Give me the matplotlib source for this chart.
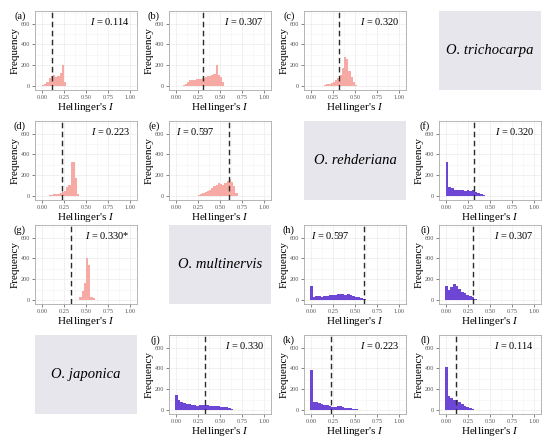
import matplotlib.pyplot as plt
import numpy as np
from matplotlib.ticker import MultipleLocator

plt.rcParams["font.family"] = ["Liberation Serif", "DejaVu Serif"]
plt.rcParams["mathtext.fontset"] = "custom"
plt.rcParams["mathtext.rm"] = "Liberation Serif"
plt.rcParams["mathtext.it"] = "Liberation Serif:italic"

PINK = "#F7AAA4"
PURPLE = "#6E46D6"
SPECIES_BG = "#E6E6EC"

# histogram counts of Hellinger's I per panel (bins start at *_start, width *_width)
a_start, a_width = 0.0, 0.025
a_counts = [10, 25, 45, 75, 95, 110, 85, 100, 130, 200, 45]
b_start, b_width = 0.05, 0.025
b_counts = [5, 12, 25, 45, 60, 65, 62, 70, 72, 68, 75, 85, 95, 100, 110, 120, 205, 110, 90, 40]
c_start, c_width = 0.075, 0.025
c_counts = [3, 5, 8, 12, 18, 25, 35, 45, 60, 80, 110, 180, 280, 260, 150, 90, 45, 15]
d_start, d_width = 0.025, 0.025
d_counts = [3, 6, 10, 14, 18, 22, 27, 33, 40, 50, 90, 110, 325, 330, 180, 20]
e_start, e_width = 0.2, 0.025
e_counts = [3, 6, 12, 18, 28, 38, 50, 65, 80, 95, 110, 125, 115, 105, 130, 150, 165, 140, 100, 30]
f_start, f_width = -0.005, 0.03
f_counts = [330, 90, 75, 65, 60, 62, 58, 55, 60, 52, 58, 45, 30, 20, 10]
g_start, g_width = 0.4, 0.025
g_counts = [8, 30, 90, 170, 400, 340, 30, 20]
h_start, h_width = -0.01, 0.03
h_counts = [140, 35, 38, 42, 35, 38, 45, 48, 50, 55, 58, 60, 58, 55, 60, 50, 45, 35, 30, 20, 12, 6, 3, 1]
i_start, i_width = -0.01, 0.03
i_counts = [140, 100, 130, 160, 140, 110, 80, 70, 55, 40, 30, 15, 5, 2]
j_start, j_width = -0.01, 0.03
j_counts = [148, 100, 80, 72, 65, 58, 52, 48, 45, 48, 50, 52, 48, 45, 42, 40, 38, 35, 32, 28, 22, 15, 8, 3]
k_start, k_width = -0.01, 0.03
k_counts = [390, 80, 76, 70, 62, 55, 48, 42, 35, 30, 38, 42, 30, 25, 22, 18, 14, 10, 7, 5, 3, 2]
l_start, l_width = -0.01, 0.03
l_counts = [410, 140, 115, 100, 95, 80, 60, 45, 30, 20, 12, 5, 2]

observed_i = {"a": 0.114, "b": 0.307, "c": 0.320, "d": 0.223, "e": 0.597, "f": 0.320,
              "g": 0.330, "h": 0.597, "i": 0.307, "j": 0.330, "k": 0.223, "l": 0.114}
i_text = {"g": "0.330*"}

x_ticks = [0.0, 0.25, 0.5, 0.75, 1.0]
x_tick_labels = ["0.00", "0.25", "0.50", "0.75", "1.00"]
y_ticks = [0, 200, 400, 600]

# (panel, row, col, start, width, counts, colour)
panels = [
    ("a", 0, 0, a_start, a_width, a_counts, PINK),
    ("b", 0, 1, b_start, b_width, b_counts, PINK),
    ("c", 0, 2, c_start, c_width, c_counts, PINK),
    ("d", 1, 0, d_start, d_width, d_counts, PINK),
    ("e", 1, 1, e_start, e_width, e_counts, PINK),
    ("f", 1, 3, f_start, f_width, f_counts, PURPLE),
    ("g", 2, 0, g_start, g_width, g_counts, PINK),
    ("h", 2, 2, h_start, h_width, h_counts, PURPLE),
    ("i", 2, 3, i_start, i_width, i_counts, PURPLE),
    ("j", 3, 1, j_start, j_width, j_counts, PURPLE),
    ("k", 3, 2, k_start, k_width, k_counts, PURPLE),
    ("l", 3, 3, l_start, l_width, l_counts, PURPLE),
]
species = [("O. trichocarpa", 0, 3), ("O. rehderiana", 1, 2),
           ("O. multinervis", 2, 1), ("O. japonica", 3, 0)]

FIG_W, FIG_H = 550, 442
COL_LEFT = [35, 169, 304, 439]
ROW_TOP = [11, 121, 225, 335]
AX_W, AX_H = 102, 79


def make_axes(fig, row, col):
    left = COL_LEFT[col] / FIG_W
    bottom = 1 - (ROW_TOP[row] + AX_H) / FIG_H
    return fig.add_axes([left, bottom, AX_W / FIG_W, AX_H / FIG_H])


def draw_hist(ax, name, start, width, counts, colour):
    edges = start + width * np.arange(len(counts))
    ax.bar(edges, counts, width=width, align="edge", color=colour, linewidth=0, zorder=2)
    ax.axvline(observed_i[name], color="#2B2B2B", linestyle=(0, (4, 2.5)), linewidth=1.0, zorder=3)

    ax.set_xlim(-0.08, 1.08)
    ax.set_ylim(-35, 720)
    ax.set_xticks(x_ticks)
    ax.set_xticklabels(x_tick_labels)
    ax.set_yticks(y_ticks)
    ax.xaxis.set_minor_locator(MultipleLocator(0.125))
    ax.yaxis.set_minor_locator(MultipleLocator(100))
    ax.grid(which="major", color="#EBEBEB", linewidth=0.5, zorder=0)
    ax.grid(which="minor", color="#F4F4F4", linewidth=0.4, zorder=0)
    ax.set_axisbelow(True)
    ax.tick_params(which="major", length=2, width=0.5, color="#555555",
                   labelsize=4.5, labelcolor="#555555", pad=1.5)
    ax.tick_params(which="minor", length=0)
    for spine in ax.spines.values():
        spine.set_color("#AAAAAA")
        spine.set_linewidth(0.6)

    ax.set_xlabel("Hellinger's $\\mathit{I}$", fontsize=8, labelpad=1)
    ax.set_ylabel("Frequency", fontsize=8, labelpad=1)

    label = f"$\\mathit{{I}}$ = {i_text.get(name, f'{observed_i[name]:.3f}')}"
    if observed_i[name] > 0.5:
        ax.text(0.0, 620, label, fontsize=7.5, ha="left", va="center", zorder=4)
    else:
        ax.text(1.0, 620, label, fontsize=7.5, ha="right", va="center", zorder=4)
    ax.text(-0.09, 1.0, f"({name})", transform=ax.transAxes, fontsize=7.5,
            ha="right", va="top")


def main() -> None:
    fig = plt.figure(figsize=(FIG_W / 100, FIG_H / 100), dpi=100)

    for name, row, col, start, width, counts, colour in panels:
        draw_hist(make_axes(fig, row, col), name, start, width, counts, colour)

    for title, row, col in species:
        ax = make_axes(fig, row, col)
        ax.set_facecolor(SPECIES_BG)
        ax.set_xticks([])
        ax.set_yticks([])
        for spine in ax.spines.values():
            spine.set_visible(False)
        ax.text(0.5, 0.5, title, transform=ax.transAxes, fontsize=10.5,
                style="italic", ha="center", va="center")

    fig.savefig("out.png", dpi=100)
    plt.close(fig)


if __name__ == "__main__":
    main()
